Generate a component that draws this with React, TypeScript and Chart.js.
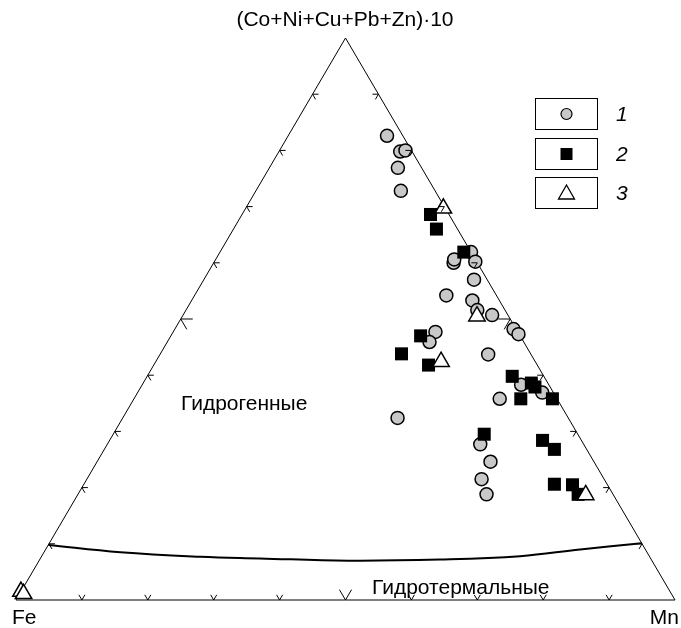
import { useEffect, useRef } from "react";
import { Chart, registerables } from "chart.js";

Chart.register(...registerables);

// Ternary data: Mn (%), Sum = (Co+Ni+Cu+Pb+Zn)*10 (%), Fe = 100 - Mn - Sum
const group1Mn = [15.0, 18.4, 19.1, 19.5, 22.0, 38.1, 36.4, 36.2, 39.6, 41.0, 38.2, 42.6, 44.2, 46.9, 51.4, 52.6, 39.8, 39.8, 49.8, 57.5, 61.4, 55.5, 41.7, 56.6, 59.7, 59.9, 62.0];
const group1Sum = [82.6, 79.8, 80.0, 76.9, 72.8, 61.9, 60.0, 60.6, 60.2, 57.0, 54.2, 53.3, 51.6, 50.7, 48.2, 47.3, 47.7, 45.9, 43.7, 38.3, 36.9, 35.8, 32.4, 27.7, 24.6, 21.5, 18.8];

const group2Mn = [28.6, 30.8, 37.0, 37.9, 36.6, 41.7, 55.4, 58.9, 59.8, 63.5, 58.7, 56.3, 65.7, 68.3, 71.4, 74.2, 75.9];
const group2Sum = [68.6, 66.0, 61.9, 47.0, 43.8, 41.8, 39.8, 38.6, 37.9, 35.8, 35.8, 29.5, 28.4, 26.8, 20.6, 20.5, 18.8];

const group3Mn = [30.0, 44.7, 43.3, 77.1, 0.0, 0.6];
const group3Sum = [69.7, 50.5, 42.4, 18.7, 1.5, 1.1];

// Boundary between hydrogenous and hydrothermal fields
const boundaryMn = [0.0, 11.6, 24.1, 33.3, 46.9, 60.7, 72.6, 81.1, 89.9];
const boundarySum = [9.8, 8.5, 7.7, 7.4, 7.0, 7.2, 7.8, 9.0, 10.1];

const tickFractions = [10, 20, 30, 40, 50, 60, 70, 80, 90];
const legendLabels = ["1", "2", "3"];

const apexLabel = "(Co+Ni+Cu+Pb+Zn)·10";
const feLabel = "Fe";
const mnLabel = "Mn";
const fieldLabels = ["Гидрогенные", "Гидротермальные"];

const toXY = (mn: number, sum: number) => ({ x: mn / 100 + sum / 200, y: sum / 100 });
const build = (mn: number[], sum: number[]) => mn.map((m, i) => toXY(m, sum[i]));

const FONT = '"Liberation Sans", Arial, sans-serif';

export default function App() {
  const ref = useRef<HTMLCanvasElement | null>(null);

  useEffect(() => {
    document.body.style.margin = "0";
    if (!ref.current) return;

    const overlay = {
      id: "ternaryOverlay",
      afterDatasetsDraw(chart: any) {
        const ctx = chart.ctx as CanvasRenderingContext2D;
        const xs = chart.scales.x;
        const ys = chart.scales.y;
        const P = (mn: number, sum: number) => {
          const p = toXY(mn, sum);
          return { x: xs.getPixelForValue(p.x), y: ys.getPixelForValue(p.y) };
        };
        const fe = P(0, 0);
        const mn = P(100, 0);
        const ap = P(0, 100);
        const dir = (a: any, b: any) => {
          const dx = b.x - a.x;
          const dy = b.y - a.y;
          const l = Math.hypot(dx, dy);
          return { x: dx / l, y: dy / l };
        };
        const dFeMn = dir(fe, mn);
        const dMnFe = dir(mn, fe);
        const dFeAp = dir(fe, ap);
        const dMnAp = dir(mn, ap);
        const dApMn = dir(ap, mn);
        const dApFe = dir(ap, fe);

        ctx.save();
        ctx.strokeStyle = "#000";
        ctx.lineWidth = 1;
        const arm = (p: any, d: any, len: number) => {
          ctx.beginPath();
          ctx.moveTo(p.x, p.y);
          ctx.lineTo(p.x + d.x * len, p.y + d.y * len);
          ctx.stroke();
        };
        tickFractions.forEach((k) => {
          const len = k === 50 ? 12 : 6;
          const b = P(k, 0);
          arm(b, dMnAp, len);
          arm(b, dFeAp, len);
          const l = P(0, k);
          arm(l, dFeMn, len);
          arm(l, dApMn, len);
          const r = P(100 - k, k);
          arm(r, dMnFe, len);
          arm(r, dApFe, len);
        });

        ctx.fillStyle = "#000";
        ctx.font = `21px ${FONT}`;
        ctx.textBaseline = "alphabetic";
        ctx.textAlign = "center";
        ctx.fillText(apexLabel, 345, 26);
        ctx.textAlign = "left";
        ctx.fillText(feLabel, 12, 624);
        ctx.textAlign = "right";
        ctx.fillText(mnLabel, 679, 624);
        ctx.textAlign = "left";
        ctx.fillText(fieldLabels[0], 181, 410);
        ctx.fillText(fieldLabels[1], 372, 594);

        const boxX = 535;
        const boxW = 62;
        const boxH = 31;
        const boxTops = [98, 138, 177];
        boxTops.forEach((top, i) => {
          ctx.lineWidth = 1;
          ctx.strokeStyle = "#000";
          ctx.strokeRect(boxX + 0.5, top + 0.5, boxW, boxH);
          const cx = boxX + boxW / 2 + 0.5;
          const cy = top + boxH / 2 + 0.5;
          if (i === 0) {
            ctx.beginPath();
            ctx.arc(cx, cy, 5.5, 0, Math.PI * 2);
            ctx.fillStyle = "#c8c8c8";
            ctx.fill();
            ctx.lineWidth = 1.2;
            ctx.stroke();
          } else if (i === 1) {
            ctx.fillStyle = "#000";
            ctx.fillRect(cx - 6, cy - 6, 12, 12);
          } else {
            ctx.beginPath();
            ctx.moveTo(cx, cy - 8);
            ctx.lineTo(cx + 8, cy + 6);
            ctx.lineTo(cx - 8, cy + 6);
            ctx.closePath();
            ctx.fillStyle = "#fff";
            ctx.fill();
            ctx.lineWidth = 1.3;
            ctx.stroke();
          }
          ctx.fillStyle = "#000";
          ctx.font = `italic 21px ${FONT}`;
          ctx.textAlign = "left";
          ctx.fillText(legendLabels[i], 616, top + 23);
        });
        ctx.restore();
      },
    };

    const chart = new Chart(ref.current, {
      type: "scatter",
      data: {
        datasets: [
          {
            label: "frame",
            data: [toXY(0, 0), toXY(100, 0), toXY(0, 100), toXY(0, 0)],
            showLine: true,
            borderColor: "#000",
            borderWidth: 1,
            pointRadius: 0,
            fill: false,
            order: 5,
            clip: false,
          } as any,
          {
            label: "boundary",
            data: build(boundaryMn, boundarySum),
            showLine: true,
            borderColor: "#000",
            borderWidth: 2,
            pointRadius: 0,
            tension: 0.4,
            fill: false,
            order: 4,
            clip: false,
          } as any,
          {
            label: "1",
            data: build(group1Mn, group1Sum),
            pointStyle: "circle",
            pointRadius: 6.5,
            backgroundColor: "#c8c8c8",
            borderColor: "#000",
            borderWidth: 1.5,
            order: 3,
            clip: false,
          } as any,
          {
            label: "2",
            data: build(group2Mn, group2Sum),
            pointStyle: "rect",
            pointRadius: 9.2,
            backgroundColor: "#000",
            borderColor: "#000",
            borderWidth: 0,
            order: 2,
            clip: false,
          } as any,
          {
            label: "3",
            data: build(group3Mn, group3Sum),
            pointStyle: "triangle",
            pointRadius: 9.5,
            backgroundColor: "#fff",
            borderColor: "#000",
            borderWidth: 1.5,
            order: 1,
            clip: false,
          } as any,
        ],
      },
      options: {
        animation: false,
        responsive: true,
        maintainAspectRatio: false,
        layout: { autoPadding: false, padding: { left: 16, right: 6, top: 38, bottom: 28 } },
        scales: {
          x: { type: "linear", min: 0, max: 1, display: false },
          y: { type: "linear", min: 0, max: 1, display: false },
        },
        plugins: {
          legend: { display: false },
          tooltip: { enabled: false },
        },
        events: [],
      },
      plugins: [overlay],
    });

    return () => chart.destroy();
  }, []);

  return (
    <div style={{ position: "relative", width: 681, height: 628, background: "#fff" }}>
      <canvas ref={ref} />
    </div>
  );
}
